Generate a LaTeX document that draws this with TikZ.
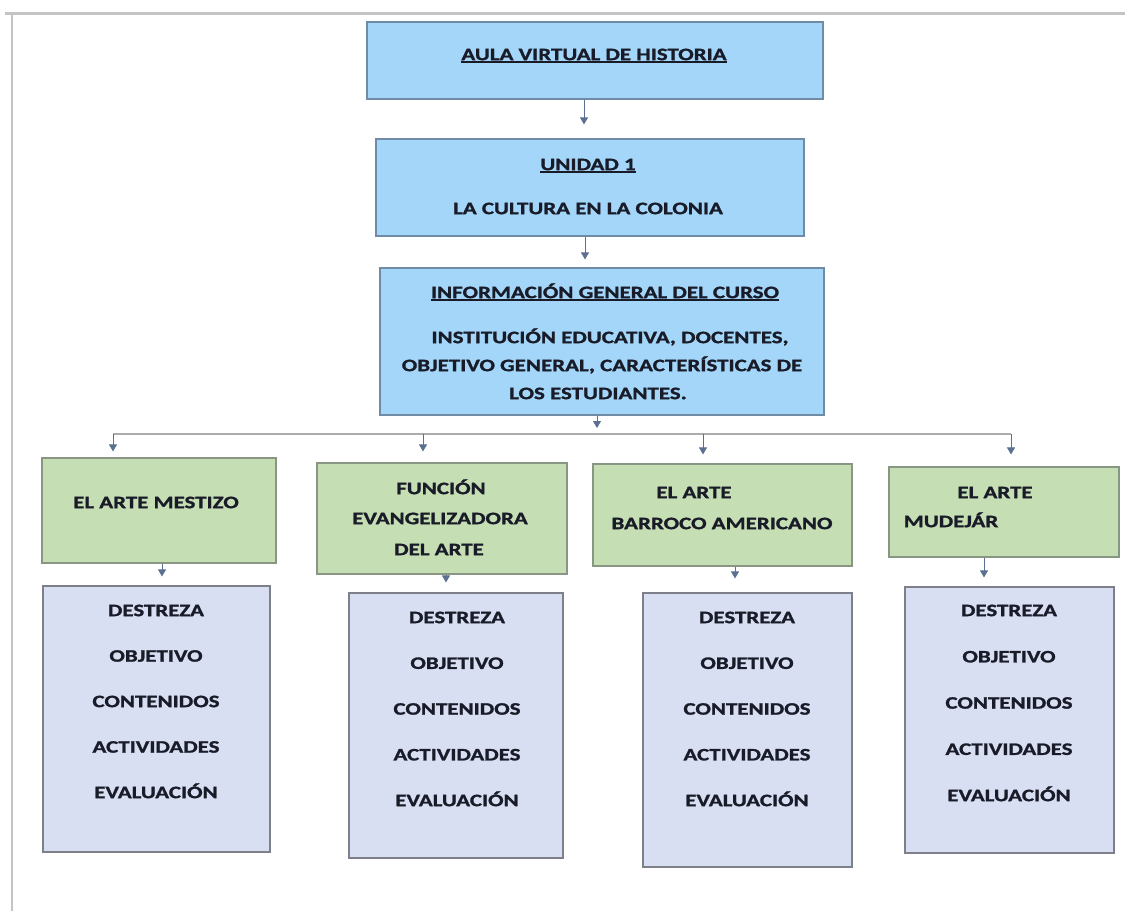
\documentclass[tikz,border=0pt]{standalone}
\usepackage{fontspec}
\setmainfont{Carlito}[FakeStretch=1.31, BoldFeatures={FakeBold=1.3}]
\usetikzlibrary{arrows.meta,shadows}
\definecolor{bluef}{HTML}{A3D6F8}
\definecolor{blued}{HTML}{6F8BA6}
\definecolor{greenf}{HTML}{C6DEB4}
\definecolor{greend}{HTML}{8A9684}
\definecolor{purplef}{HTML}{D9DFF3}
\definecolor{purpled}{HTML}{7D8088}
\definecolor{txtc}{HTML}{191C28}
\definecolor{arrc}{HTML}{5B7090}
\definecolor{framec}{HTML}{C4C4C4}
\newcommand\ulx[1]{\setbox0\hbox{#1}\rlap{\rule[-2.6pt]{\wd0}{1.3pt}}\box0}
\tikzset{
  boxbase/.style={draw, line width=1.1pt, inner sep=0pt,
    drop shadow={shadow xshift=0.6pt, shadow yshift=-1.4pt, fill=black, opacity=0.25}},
  bluebox/.style={boxbase, fill=bluef, draw=blued},
  greenbox/.style={boxbase, fill=greenf, draw=greend},
  purplebox/.style={boxbase, fill=purplef, draw=purpled},
  txt/.style={inner sep=0pt, text height=0.63em, text depth=0pt, text=txtc, yshift=-3pt,
    font=\fontsize{17.5}{20}\selectfont\bfseries},
  arr/.style={draw=arrc, line width=0.8pt, -{Triangle[width=8pt,length=7pt]}},
  busline/.style={draw=gray!65, line width=1.3pt},
}
\begin{document}
\begin{tikzpicture}[x=1pt,y=-1pt]
\useasboundingbox (0,0) rectangle (1125,911);
% frame
\draw[framec, line width=3pt] (5,13) -- (1125,13);
\draw[framec, line width=2pt] (12,13) -- (12,911);
% top boxes
\node[bluebox, minimum width=456pt, minimum height=77pt] (b1) at (595,60.5) {};
\node[txt] (t1) at (594,54) {\ulx{AULA VIRTUAL DE HISTORIA}};
\node[bluebox, minimum width=428pt, minimum height=97pt] (b2) at (590,187.5) {};
\node[txt] (t2a) at (588,164) {\ulx{UNIDAD 1}};
\node[txt] (t2b) at (588,208) {LA CULTURA EN LA COLONIA};
\node[bluebox, minimum width=444pt, minimum height=147pt] (b3) at (602,341.5) {};
\node[txt] (t3a) at (605,292) {\ulx{INFORMACIÓN GENERAL DEL CURSO}};
\node[txt] (t3b) at (610,337) {INSTITUCIÓN EDUCATIVA, DOCENTES,};
\node[txt] (t3c) at (602,365) {OBJETIVO GENERAL, CARACTERÍSTICAS DE};
\node[txt] (t3d) at (598,393) {LOS ESTUDIANTES.};
% green boxes
\node[greenbox, minimum width=234pt, minimum height=105pt] (g1) at (159,510.5) {};
\node[txt] (g1t) at (156,502) {EL ARTE MESTIZO};
\node[greenbox, minimum width=250pt, minimum height=111pt] (g2) at (442,518.5) {};
\node[txt] (g2a) at (441,488) {FUNCIÓN};
\node[txt] (g2b) at (440,518) {EVANGELIZADORA};
\node[txt] (g2c) at (439,549) {DEL ARTE};
\node[greenbox, minimum width=259pt, minimum height=102pt] (g3) at (722.5,515) {};
\node[txt] (g3a) at (694,492) {EL ARTE};
\node[txt] (g3b) at (722,523) {BARROCO AMERICANO};
\node[greenbox, minimum width=230pt, minimum height=90pt] (g4) at (1004,512) {};
\node[txt] (g4a) at (995,492) {EL ARTE};
\node[txt] (g4b) at (951,521) {MUDEJÁR};
% purple boxes
\node[purplebox, minimum width=227pt, minimum height=266pt] (p1) at (156.5,719) {};
\node[purplebox, minimum width=214pt, minimum height=265pt] (p2) at (456,725.5) {};
\node[purplebox, minimum width=209pt, minimum height=274pt] (p3) at (747.5,730) {};
\node[purplebox, minimum width=209pt, minimum height=266pt] (p4) at (1009.5,720) {};
\foreach \t [count=\i] in {DESTREZA,OBJETIVO,CONTENIDOS,ACTIVIDADES,EVALUACIÓN}{
  \node[txt] (p1t\i) at (156,{610+45.5*(\i-1)}) {\t};
  \node[txt] (p2t\i) at (457,{617+45.75*(\i-1)}) {\t};
  \node[txt] (p3t\i) at (747,{617+45.75*(\i-1)}) {\t};
  \node[txt] (p4t\i) at (1009,{610+46.25*(\i-1)}) {\t};
}
% connectors
\coordinate (x1) at (584,0);
\coordinate (x2) at (585,0);
\coordinate (x3) at (597,0);
\coordinate (bus) at (597,434);
\coordinate (busL) at (113,434);
\coordinate (busM) at (423,434);
\coordinate (busN) at (703,434);
\coordinate (busR) at (1011,434);
\draw[arr, shorten >=14pt] (x1 |- b1.south) -- (x1 |- b2.north);
\draw[arr, shorten >=8pt] (x2 |- b2.south) -- (x2 |- b3.north);
\draw[arr, shorten >=6pt] (x3 |- b3.south) -- (bus);
\draw[busline] (busL) -- (busR);
\draw[arr, shorten >=6pt] (busL) -- (busL |- g1.north);
\draw[arr, shorten >=11pt] (busM) -- (busM |- g2.north);
\draw[arr, shorten >=9pt] (busN) -- (busN |- g3.north);
\draw[arr, shorten >=12pt] (busR) -- (busR |- g4.north);
\coordinate (y1) at (162,0);
\coordinate (y2) at (446,0);
\coordinate (y3) at (735,0);
\coordinate (y4) at (984,0);
\draw[arr, shorten >=9pt] (y1 |- g1.south) -- (y1 |- p1.north);
\draw[arr, shorten >=10pt] (y2 |- g2.south) -- (y2 |- p2.north);
\draw[arr, shorten >=14pt] (y3 |- g3.south) -- (y3 |- p3.north);
\draw[arr, shorten >=9pt] (y4 |- g4.south) -- (y4 |- p4.north);
\end{tikzpicture}
\end{document}
